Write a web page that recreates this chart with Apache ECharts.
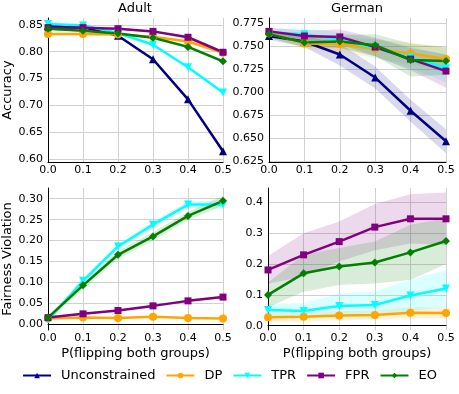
<!DOCTYPE html>
<html>
<head>
<meta charset="utf-8">
<script src="https://cdn.jsdelivr.net/npm/echarts@6/dist/echarts.min.js"></script>
<style>
  html, body { margin: 0; padding: 0; background: #fff; }
  #chart { width: 459px; height: 394px; }
</style>
</head>
<body>
<div id="chart"></div>
<script>
const xCats = ['0.0', '0.1', '0.2', '0.3', '0.4', '0.5']
const methods = ['Unconstrained', 'DP', 'TPR', 'FPR', 'EO']

// Adult - accuracy
const adultAccUnc = [0.848, 0.846, 0.830, 0.786, 0.711, 0.614]
const adultAccDP  = [0.833, 0.833, 0.832, 0.828, 0.819, 0.798]
const adultAccTPR = [0.852, 0.849, 0.835, 0.813, 0.771, 0.724]
const adultAccFPR = [0.845, 0.845, 0.843, 0.838, 0.827, 0.799]
const adultAccEO  = [0.843, 0.839, 0.834, 0.826, 0.809, 0.782]
const adultAccErr = [0.002, 0.002, 0.002, 0.002, 0.003, 0.003]

// German - accuracy
const germanAccUnc = [0.761, 0.755, 0.741, 0.716, 0.680, 0.647]
const germanAccDP  = [0.764, 0.753, 0.752, 0.747, 0.742, 0.736]
const germanAccTPR = [0.765, 0.763, 0.757, 0.748, 0.738, 0.726]
const germanAccFPR = [0.766, 0.761, 0.760, 0.749, 0.736, 0.723]
const germanAccEO  = [0.763, 0.754, 0.755, 0.751, 0.735, 0.734]
const germanAccUncErr = [0.004, 0.006, 0.012, 0.012, 0.012, 0.013]
const germanAccDPErr  = [0.004, 0.006, 0.008, 0.010, 0.012, 0.012]
const germanAccTPRErr = [0.004, 0.006, 0.008, 0.010, 0.012, 0.015]
const germanAccFPRErr = [0.004, 0.006, 0.008, 0.010, 0.012, 0.018]
const germanAccEOErr  = [0.004, 0.005, 0.007, 0.012, 0.018, 0.015]

// Adult - fairness violation
const adultFairDP  = [0.014, 0.016, 0.015, 0.018, 0.015, 0.014]
const adultFairTPR = [0.010, 0.104, 0.186, 0.238, 0.286, 0.286]
const adultFairFPR = [0.016, 0.025, 0.033, 0.044, 0.056, 0.065]
const adultFairEO  = [0.016, 0.093, 0.166, 0.210, 0.259, 0.295]
const adultFairDPErr  = [0.002, 0.002, 0.002, 0.002, 0.002, 0.002]
const adultFairTPRErr = [0.003, 0.006, 0.007, 0.007, 0.008, 0.010]
const adultFairFPRErr = [0.002, 0.002, 0.002, 0.003, 0.003, 0.003]
const adultFairEOErr  = [0.005, 0.010, 0.010, 0.010, 0.010, 0.012]

// German - fairness violation
const germanFairDP  = [0.027, 0.029, 0.033, 0.035, 0.042, 0.041]
const germanFairTPR = [0.051, 0.048, 0.064, 0.067, 0.098, 0.121]
const germanFairFPR = [0.181, 0.230, 0.273, 0.320, 0.347, 0.347]
const germanFairEO  = [0.100, 0.170, 0.192, 0.205, 0.238, 0.275]
const germanFairDPErr  = [0.015, 0.015, 0.015, 0.015, 0.018, 0.018]
const germanFairTPRErr = [0.020, 0.025, 0.040, 0.045, 0.050, 0.060]
const germanFairFPRErr = [0.045, 0.070, 0.065, 0.075, 0.080, 0.085]
const germanFairEOErr  = [0.040, 0.060, 0.060, 0.068, 0.090, 0.075]

const styles = {
  Unconstrained: { color: '#000080', symbol: 'triangle', rotate: 0 },
  DP:  { color: '#ffa500', symbol: 'circle', rotate: 0 },
  TPR: { color: '#00ffff', symbol: 'triangle', rotate: 180 },
  FPR: { color: '#800080', symbol: 'rect', rotate: 0 },
  EO:  { color: '#008000', symbol: 'diamond', rotate: 0 }
}
const font = 'DejaVu Sans'

const series = []

function addLine(grid, name, values) {
  const s = styles[name]
  series.push({
    name: name,
    type: 'line',
    xAxisIndex: grid,
    yAxisIndex: grid,
    data: values,
    symbol: s.symbol,
    symbolRotate: s.rotate,
    symbolSize: name === 'FPR' ? 7 : 8,
    showAllSymbol: true,
    color: s.color,
    lineStyle: { width: 2.5, color: s.color },
    itemStyle: { color: s.color },
    z: 3,
    animation: false
  })
}

function addBand(grid, name, values, err) {
  const s = styles[name]
  const lo = values.map((v, i) => v - err[i])
  const span = err.map(e => 2 * e)
  const stack = 'band' + grid + name
  series.push({
    name: 'band', type: 'line', xAxisIndex: grid, yAxisIndex: grid,
    data: lo, stack: stack, symbol: 'none', lineStyle: { opacity: 0 },
    silent: true, z: 1, animation: false
  })
  series.push({
    name: 'band', type: 'line', xAxisIndex: grid, yAxisIndex: grid,
    data: span, stack: stack, symbol: 'none', lineStyle: { opacity: 0 },
    areaStyle: { color: s.color, opacity: 0.15 },
    silent: true, z: 1, animation: false
  })
}

// panel 0 adult accuracy
addBand(0, 'Unconstrained', adultAccUnc, adultAccErr)
addBand(0, 'DP', adultAccDP, adultAccErr)
addBand(0, 'TPR', adultAccTPR, adultAccErr)
addBand(0, 'FPR', adultAccFPR, adultAccErr)
addBand(0, 'EO', adultAccEO, adultAccErr)
addLine(0, 'Unconstrained', adultAccUnc)
addLine(0, 'DP', adultAccDP)
addLine(0, 'TPR', adultAccTPR)
addLine(0, 'FPR', adultAccFPR)
addLine(0, 'EO', adultAccEO)

// panel 1 german accuracy
addBand(1, 'Unconstrained', germanAccUnc, germanAccUncErr)
addBand(1, 'DP', germanAccDP, germanAccDPErr)
addBand(1, 'TPR', germanAccTPR, germanAccTPRErr)
addBand(1, 'FPR', germanAccFPR, germanAccFPRErr)
addBand(1, 'EO', germanAccEO, germanAccEOErr)
addLine(1, 'Unconstrained', germanAccUnc)
addLine(1, 'DP', germanAccDP)
addLine(1, 'TPR', germanAccTPR)
addLine(1, 'FPR', germanAccFPR)
addLine(1, 'EO', germanAccEO)

// panel 2 adult fairness
addBand(2, 'DP', adultFairDP, adultFairDPErr)
addBand(2, 'TPR', adultFairTPR, adultFairTPRErr)
addBand(2, 'FPR', adultFairFPR, adultFairFPRErr)
addBand(2, 'EO', adultFairEO, adultFairEOErr)
addLine(2, 'DP', adultFairDP)
addLine(2, 'TPR', adultFairTPR)
addLine(2, 'FPR', adultFairFPR)
addLine(2, 'EO', adultFairEO)

// panel 3 german fairness
addBand(3, 'DP', germanFairDP, germanFairDPErr)
addBand(3, 'TPR', germanFairTPR, germanFairTPRErr)
addBand(3, 'FPR', germanFairFPR, germanFairFPRErr)
addBand(3, 'EO', germanFairEO, germanFairEOErr)
addLine(3, 'DP', germanFairDP)
addLine(3, 'TPR', germanFairTPR)
addLine(3, 'FPR', germanFairFPR)
addLine(3, 'EO', germanFairEO)

const grids = [
  { left: 48, top: 18, width: 175, height: 144 },
  { left: 269, top: 18, width: 177, height: 144 },
  { left: 48, top: 188, width: 175, height: 142 },
  { left: 268, top: 188, width: 178, height: 142 }
]

function xAxis(grid, withName) {
  return {
    type: 'category',
    gridIndex: grid,
    data: xCats,
    boundaryGap: false,
    name: withName ? 'P(flipping both groups)' : '',
    nameLocation: 'middle',
    nameGap: 17,
    nameTextStyle: { fontFamily: font, fontSize: 13, color: '#000' },
    axisLine: { show: true, lineStyle: { color: '#000', width: 1 } },
    axisTick: { show: false },
    axisLabel: { margin: 3, fontFamily: font, fontSize: 11, color: '#000', showMaxLabel: true },
    splitLine: { show: true, lineStyle: { color: '#d0d0d0', width: 1 } }
  }
}

function yAxis(grid, min, max, ticks, digits, name) {
  return {
    type: 'value',
    gridIndex: grid,
    min: min,
    max: max,
    name: name,
    nameLocation: 'middle',
    nameGap: 30,
    nameTextStyle: { fontFamily: font, fontSize: 13, color: '#000' },
    axisLine: { show: true, lineStyle: { color: '#000', width: 1 } },
    axisTick: { show: false, customValues: ticks },
    axisLabel: {
      margin: 5, fontFamily: font, fontSize: 11, color: '#000',
      customValues: ticks,
      formatter: v => v.toFixed(digits)
    },
    splitLine: { show: true, lineStyle: { color: '#d0d0d0', width: 1 } }
  }
}

const accAdultTicks = [0.60, 0.65, 0.70, 0.75, 0.80, 0.85]
const accGermanTicks = [0.625, 0.65, 0.675, 0.70, 0.725, 0.75, 0.775]
const fairAdultTicks = [0, 0.05, 0.10, 0.15, 0.20, 0.25, 0.30]
const fairGermanTicks = [0, 0.1, 0.2, 0.3, 0.4]

const chart = echarts.init(document.getElementById('chart'), null, { renderer: 'canvas' })
chart.setOption({
  backgroundColor: '#fff',
  animation: false,
  title: [
    { text: 'Adult', left: 135, top: 2, padding: 0, textAlign: 'center',
      textStyle: { fontFamily: font, fontSize: 13, fontWeight: 'normal', color: '#000' } },
    { text: 'German', left: 357, top: 2, padding: 0, textAlign: 'center',
      textStyle: { fontFamily: font, fontSize: 13, fontWeight: 'normal', color: '#000' } }
  ],
  legend: {
    data: methods,
    left: 'center',
    top: 369,
    padding: 0,
    itemWidth: 28,
    itemHeight: 7,
    itemGap: 10,
    textStyle: { fontFamily: font, fontSize: 13, color: '#000', padding: [0, 0, 0, 5] }
  },
  grid: grids,
  xAxis: [xAxis(0, false), xAxis(1, false), xAxis(2, true), xAxis(3, true)],
  yAxis: [
    yAxis(0, 0.594, 0.863, accAdultTicks, 2, 'Accuracy'),
    yAxis(1, 0.6245, 0.7805, accGermanTicks, 3, ''),
    yAxis(2, -0.0136, 0.3256, fairAdultTicks, 2, 'Fairness Violation'),
    yAxis(3, -0.014, 0.447, fairGermanTicks, 1, '')
  ],
  series: series
})
</script>
</body>
</html>
